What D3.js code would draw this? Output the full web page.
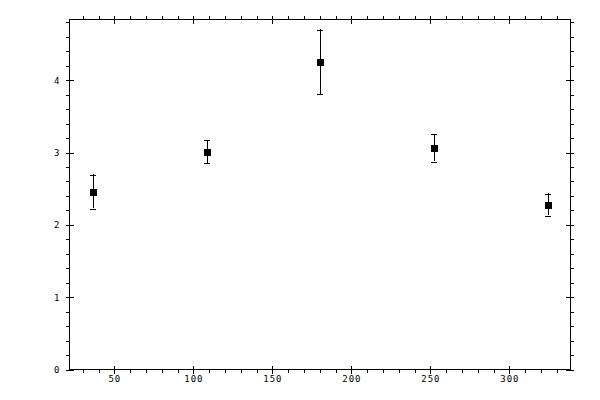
<!DOCTYPE html>
<html>
<head>
<meta charset="utf-8">
<script src="https://cdn.jsdelivr.net/npm/d3@7"></script>
<style>
	body { margin: 0; background: #fff; }
	svg { display: block; }
	.axis text { font-family: 'DejaVu Sans Mono', monospace; font-size: 9px; letter-spacing: 1px; fill: #000; }
	.axis line, .axis path { stroke: #000; stroke-width: 1; shape-rendering: crispEdges; }
</style>
</head>
<body>
<div id="chart"></div>
<script>
// data
var xValues = [36, 108, 180, 252, 324];
var yValues = [2.465, 3.018, 4.257, 3.073, 2.282];
var yErrors = [0.237, 0.16, 0.447, 0.19, 0.152];

var xMajor = [50, 100, 150, 200, 250, 300];
var xMinor = d3.range(30, 340, 10);
var yMajor = [0, 1, 2, 3, 4];
var yMinor = d3.range(0, 4.81, 0.2);

var width = 600, height = 400;
var margin = { left: 69.5, right: 30, top: 19.5, bottom: 30.5 };
var plotW = width - margin.left - margin.right;
var plotH = height - margin.top - margin.bottom;

var svg = d3.select('#chart').append('svg')
	.attr('width', width)
	.attr('height', height)

var plot = svg.append('g')
	.attr('transform', 'translate(' + margin.left + ',' + margin.top + ')')

var xScale = d3.scaleLinear().domain([21.6, 338.4]).range([0, plotW])
var yScale = d3.scaleLinear().domain([0, 4.84]).range([plotH, 0])

/* frame: outward minor ticks, major ticks on both sides */
function addAxis(axisFn, scale, majors, minors, transform, labels) {
	var g = plot.append('g').attr('class', 'axis').attr('transform', transform)
	g.call(axisFn(scale).tickValues(minors).tickSize(3.5).tickFormat(''))
	g.append('g').call(axisFn(scale).tickValues(majors).tickSize(4).tickPadding(5)
		.tickFormat(labels ? d3.format('d') : ''))
	g.selectAll('text').attr('dy', null)
	return g
}

var bottom = addAxis(d3.axisBottom, xScale, xMajor, xMinor, 'translate(0,' + plotH + ')', true)
bottom.selectAll('text').attr('y', 12)
plot.append('g').attr('class', 'axis').attr('transform', 'translate(0,' + plotH + ')')
	.call(d3.axisTop(xScale).tickValues(xMajor).tickSize(4).tickFormat(''))
	.select('.domain').remove()

addAxis(d3.axisTop, xScale, xMajor, xMinor, 'translate(0,0)', false)
plot.append('g').attr('class', 'axis')
	.call(d3.axisBottom(xScale).tickValues(xMajor).tickSize(4).tickFormat(''))
	.select('.domain').remove()

var left = addAxis(d3.axisLeft, yScale, yMajor, yMinor, 'translate(0,0)', true)
left.selectAll('text').attr('dy', '0.32em')
plot.append('g').attr('class', 'axis')
	.call(d3.axisRight(yScale).tickValues(yMajor).tickSize(4).tickFormat(''))
	.select('.domain').remove()

addAxis(d3.axisRight, yScale, yMajor, yMinor, 'translate(' + plotW + ',0)', false)
plot.append('g').attr('class', 'axis').attr('transform', 'translate(' + plotW + ',0)')
	.call(d3.axisLeft(yScale).tickValues(yMajor).tickSize(4).tickFormat(''))
	.select('.domain').remove()

plot.selectAll('.domain').attr('d', null)
// plain frame lines instead of domain paths with outer ticks
plot.append('rect')
	.attr('width', plotW)
	.attr('height', plotH)
	.attr('fill', 'none')
	.attr('stroke', '#000')
	.attr('shape-rendering', 'crispEdges')

/* error bars and markers */
var pts = xValues.map(function (x, i) {
	return { x: x, y: yValues[i], e: yErrors[i] }
})

var bars = plot.append('g')
	.attr('stroke', '#000')
	.attr('shape-rendering', 'crispEdges')

bars.selectAll('.err').data(pts).enter().append('line')
	.attr('x1', function (d) { return Math.round(xScale(d.x)) + 0.5 })
	.attr('x2', function (d) { return Math.round(xScale(d.x)) + 0.5 })
	.attr('y1', function (d) { return yScale(d.y + d.e) })
	.attr('y2', function (d) { return yScale(d.y - d.e) })

bars.selectAll('.capTop').data(pts).enter().append('line')
	.attr('x1', function (d) { return Math.round(xScale(d.x)) - 2.5 })
	.attr('x2', function (d) { return Math.round(xScale(d.x)) + 3.5 })
	.attr('y1', function (d) { return Math.round(yScale(d.y + d.e)) + 0.5 })
	.attr('y2', function (d) { return Math.round(yScale(d.y + d.e)) + 0.5 })

bars.selectAll('.capBot').data(pts).enter().append('line')
	.attr('x1', function (d) { return Math.round(xScale(d.x)) - 2.5 })
	.attr('x2', function (d) { return Math.round(xScale(d.x)) + 3.5 })
	.attr('y1', function (d) { return Math.round(yScale(d.y - d.e)) + 0.5 })
	.attr('y2', function (d) { return Math.round(yScale(d.y - d.e)) + 0.5 })

plot.append('g').selectAll('rect').data(pts).enter().append('rect')
	.attr('x', function (d) { return Math.round(xScale(d.x)) - 3 })
	.attr('y', function (d) { return Math.round(yScale(d.y)) - 3 })
	.attr('width', 7)
	.attr('height', 7)
	.attr('fill', '#000')
	.attr('shape-rendering', 'crispEdges')
</script>
</body>
</html>
